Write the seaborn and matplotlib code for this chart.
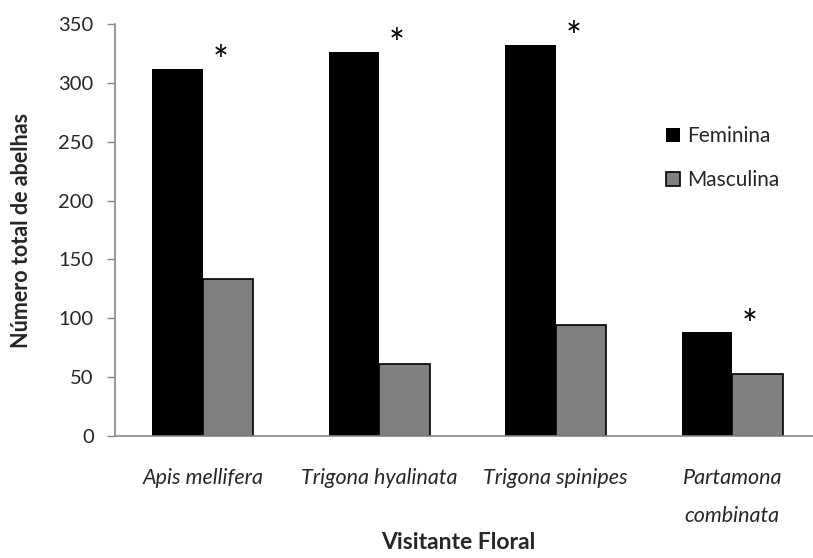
import matplotlib
matplotlib.use("Agg")
import matplotlib.pyplot as plt
import seaborn as sns
import pandas as pd
import numpy as np
from matplotlib.patches import Patch

categories = ["Apis mellifera", "Trigona hyalinata", "Trigona spinipes", "Partamona\ncombinata"]
feminina = [312, 326, 332, 88]
masculina = [133, 61, 94, 53]
significant = [True, True, True, True]
series_names = ["Feminina", "Masculina"]
yticks = [0, 50, 100, 150, 200, 250, 300, 350]

df = pd.DataFrame({
    "Visitante": categories * 2,
    "Sexo": [series_names[0]] * len(categories) + [series_names[1]] * len(categories),
    "Total": feminina + masculina,
})

sns.set_theme(style="white")
plt.rcParams["font.family"] = ["Lato", "DejaVu Sans"]

fig = plt.figure(figsize=(8.13, 5.58), dpi=100)
W, H = 813, 558
left_px, right_px, top_px, bottom_px = 114.5, 820.5, 24, 436
ax = fig.add_axes([left_px / W, 1 - bottom_px / H, (right_px - left_px) / W, (bottom_px - top_px) / H])

colors = {"Feminina": "#000000", "Masculina": "#808080"}
sns.barplot(data=df, x="Visitante", y="Total", hue="Sexo", palette=colors,
            width=0.57, gap=0, ax=ax, legend=False, saturation=1)

for cont, name in zip(ax.containers, series_names):
    for p in cont:
        p.set_edgecolor("black")
        p.set_linewidth(1.2 if name == "Masculina" else 0)

ax.set_xlim(-0.5, len(categories) - 0.5)
ax.set_ylim(0, 350)
ax.set_yticks(yticks)
ax.set_yticklabels([str(v) for v in yticks], fontsize=14.5)

ax.set_xticks(range(len(categories)))
ax.set_xticklabels(categories, fontsize=15.5, style="italic", linespacing=2.15)
ax.set_xticks(np.arange(-0.5, len(categories), 1.0), minor=True)
ax.tick_params(axis="x", which="major", length=0, pad=23)
ax.tick_params(axis="x", which="minor", length=7, width=1, color="#868686", direction="out")
ax.tick_params(axis="y", which="major", length=6, width=1, color="#868686", direction="out", pad=9, left=True)

for s in ["top", "right"]:
    ax.spines[s].set_visible(False)
for s in ["left", "bottom"]:
    ax.spines[s].set_color("#868686")
    ax.spines[s].set_linewidth(1.2)

ax.set_xlabel("Visitante Floral", fontsize=16.5, fontweight="bold")
ax.xaxis.set_label_coords((458 - left_px) / (right_px - left_px), (bottom_px - 532) / (bottom_px - top_px))
ax.set_ylabel("Número total de abelhas", fontsize=15.5, fontweight="bold", labelpad=19)

for i, (f, sig) in enumerate(zip(feminina, significant)):
    if sig:
        ax.text(i + 0.1, f + 5, "*", fontsize=27, ha="center", va="center", color="black")

handles = [Patch(facecolor="#000000", edgecolor="#000000", linewidth=0),
           Patch(facecolor="#808080", edgecolor="#000000", linewidth=1.2)]
ax.legend(handles, series_names, loc="center left", bbox_to_anchor=(0.755, 0.674),
          frameon=False, fontsize=15, handlelength=0.68, handleheight=0.68,
          handletextpad=0.33, labelspacing=1.15)

fig.savefig("out.png", dpi=100)
